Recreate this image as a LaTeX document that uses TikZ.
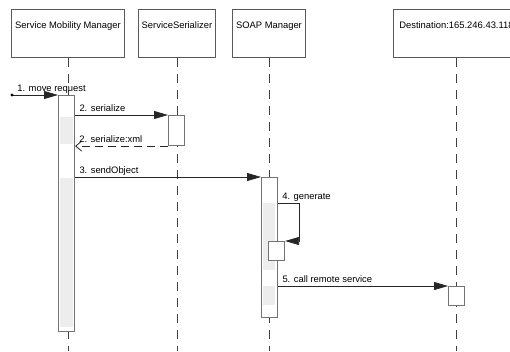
\documentclass[tikz,border=0pt]{standalone}
\usepackage{fontspec}
\setmainfont{Liberation Sans}
\usetikzlibrary{arrows.meta}
\begin{document}
\begin{tikzpicture}[x=1pt, y=-1pt, line join=miter,
	font=\fontsize{9.4}{10}\selectfont,
	head/.style={draw=black!65, line width=.9pt, anchor=north west, minimum height=48pt,
		inner sep=0pt, text height=19pt, text depth=29pt, text=black},
	bar/.style={draw=black!55, line width=1.1pt, fill=white, anchor=north west,
		minimum width=16pt, inner sep=0pt},
	band/.style={fill=black!7},
	life/.style={draw=black!75, line width=.9pt, dash pattern=on 9pt off 7pt},
	call/.style={draw=black!85, line width=.8pt, -{Triangle[length=14pt,width=8pt]}},
	reply/.style={draw=black!85, line width=.8pt, dash pattern=on 8pt off 5pt,
		-{Straight Barb[length=6pt,width=10pt]}},
	msg/.style={anchor=south west, inner sep=1pt, text depth=2pt, xshift=3pt, text=black}]
	\useasboundingbox (0,0) rectangle (510,351);
	% objects
	\node[head, minimum width=113pt] (smm) at (11,9) {Service Mobility Manager};
	\node[head, minimum width=77pt] (ser) at (138,9) {ServiceSerializer};
	\node[head, minimum width=73pt] (soap) at (232,9) {SOAP Manager};
	\node[head, minimum width=126pt] (dest) at (393,9) {Destination:165.246.43.118};
	% lifelines
	\foreach \o in {smm,ser,soap,dest}{
		\draw[life] (\o.south) -- (\o.south |- 0,351);}
	% activations
	\node[bar, minimum height=236pt] (act1) at (58,95) {};
	\node[bar, minimum height=30pt] (act2) at (168,115) {};
	\node[bar, minimum height=140pt] (act3) at (261,177) {};
	\node[bar, minimum height=19pt] (act4) at (448,286) {};
	\foreach \a/\b in {117/144,178/327}{
		\fill[band] (60,\a) rectangle (73,\b);}
	\foreach \a/\b in {203/270,286/305}{
		\fill[band] (263,\a) rectangle (275,\b);}
	\node[bar, minimum height=19pt] (act3b) at (268,241) {};
	% messages
	\coordinate (start) at (12,95);
	\coordinate (gen) at (299,203);
	\draw[call] (start) -- (act1.north west) node[pos=0, msg, xshift=1pt] {1. move request};
	\fill (start) circle (1.7pt);
	\draw[call] (act1.east |- act2.north) -- (act2.north west) node[pos=0, msg] {2. serialize};
	\draw[reply] (act2.south west) -- (act1.east |- act2.south);
	\node[msg] at (act1.east |- act2.south) {2. serialize:xml};
	\draw[call] (act1.east |- act3.north) -- (act3.north west) node[pos=0, msg] {3. sendObject};
	\draw[call] (act3.east |- gen) -- (gen) |- (act3b.north east);
	\node[msg] at (act3.east |- gen) {4. generate};
	\draw[call] (act3.east |- act4.north) -- (act4.north west) node[pos=0, msg] {5. call remote service};
\end{tikzpicture}
\end{document}
